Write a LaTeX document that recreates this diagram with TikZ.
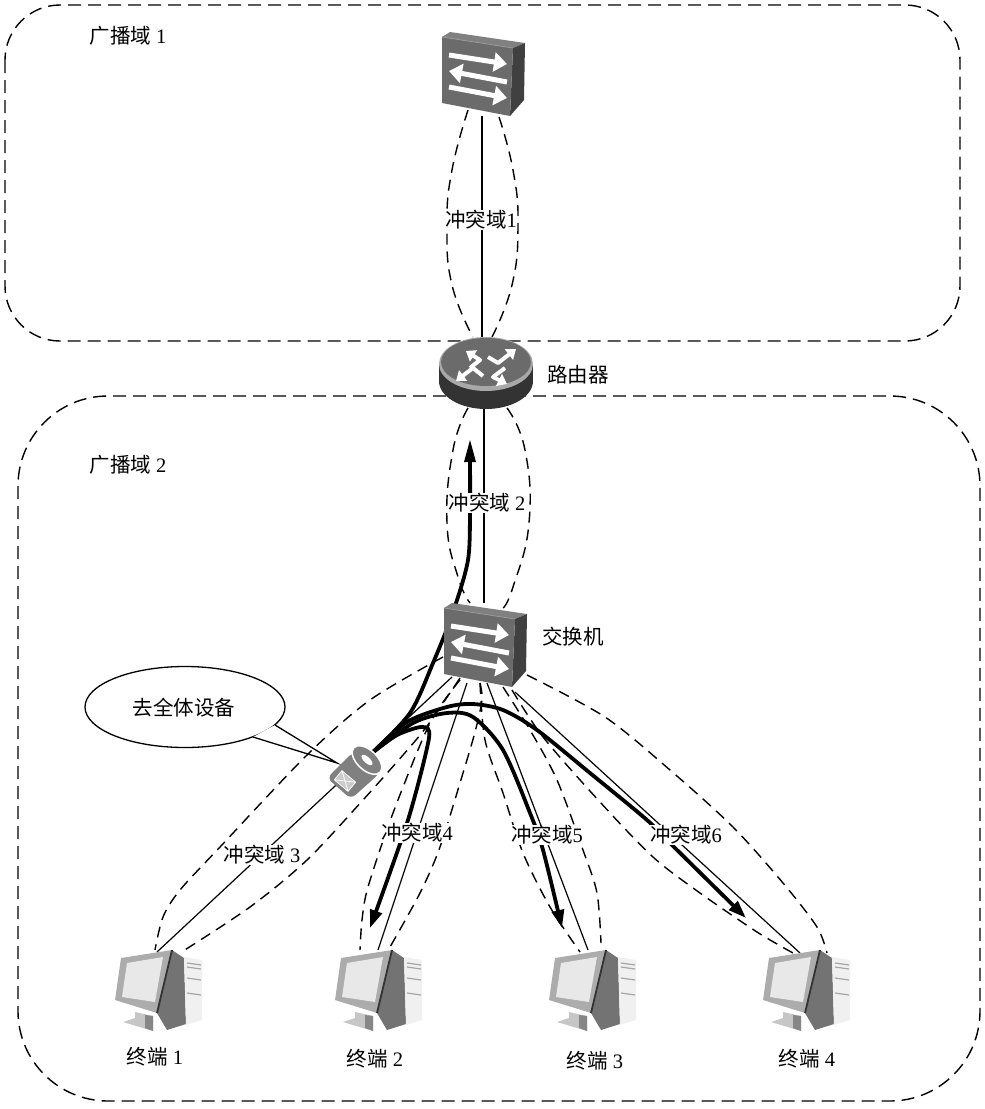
\documentclass[tikz,border=0pt]{standalone}
\usepackage{fontspec}
\setmainfont{Liberation Serif}
\newfontfamily\cjk{Noto Sans CJK SC}
\usetikzlibrary{arrows.meta,calc,shapes.geometric}
\definecolor{swfront}{gray}{0.42}
\definecolor{swtop}{gray}{0.50}
\definecolor{swside}{gray}{0.25}
\definecolor{rtop}{gray}{0.42}
\definecolor{rrim}{gray}{0.66}
\definecolor{rside}{gray}{0.2}
\definecolor{mailc}{gray}{0.50}
\tikzset{
  x=1pt,y=-1pt,
  domainbox/.style={draw=black,line width=1.4pt,dash pattern=on 13pt off 7pt},
  lens/.style={draw=black,line width=1.4pt,dash pattern=on 11pt off 7pt},
  wire/.style={draw=black,line width=1.2pt},
  flow/.style={draw=black,line width=3.8pt},
  flowtip/.style={-{Triangle[length=18pt,width=12pt]}},
  lab/.style={font=\fontsize{20.5}{24}\selectfont,inner sep=1pt},
  labw/.style={lab,fill=white,inner sep=0.5pt},
  ghost/.style={inner sep=0pt,minimum width=#1,draw=none},
  wht/.style={draw=white,line width=5pt,line join=round,
     -{Triangle[length=13pt,width=19pt]}},
  whr/.style={draw=white,line width=4pt,line join=round,
     -{Triangle[length=9pt,width=13pt]}}
}
\newcommand{\swicon}[2]{%
 \begin{scope}[shift={(#1,#2)}]
  \fill[swtop] (442,37)--(450,32)--(525,43)--(513,48)--cycle;
  \fill[swside] (513,48)--(525,43)--(524,100)--(510,116)--cycle;
  \fill[swfront] (442,37)--(513,48)--(510,116)--(442,103)--cycle;
  \draw[gray!80!white,line width=.8pt] (442,37)--(513,48);
  \draw[wht] (449,55)--(507,64);
  \draw[wht] (507,82)--(449,71);
  \draw[wht] (449,87)--(507,98);
 \end{scope}}
\newcommand{\pcicon}[2]{%
 \begin{scope}[shift={(#1,#2)}]
  \fill[black!55] (172,950)--(184,958)--(186,1024)--(167,1030)--(157,1013)--cycle;
  \fill[gray!12] (184,957)--(202,960)--(202,1020)--(186,1025)--cycle;
  \draw[gray!70,line width=1.2pt] (187,963)--(201,965) (187,967)--(201,969) (187,978)--(201,980) (187,993)--(201,995);
  \fill[gray!45] (135,1012)--(153,1016)--(153,1031)--(123,1022)--(135,1018)--cycle;
  \fill[gray!95] (145,1015)--(153,1016)--(153,1031)--(145,1028)--cycle;
  \fill[gray!65] (121,958)--(172,950)--(157,1013)--(115,1000)--cycle;
  \fill[gray!18] (127,963)--(163,957)--(155,1002)--(122,997)--cycle;
  \draw[black!80,line width=1.8pt] (172,950)--(157,1013);
 \end{scope}}
\begin{document}
\begin{tikzpicture}
\useasboundingbox (0,0) rectangle (985,1109);
% broadcast domains
\draw[domainbox,rounded corners=55pt] (5,5) rectangle (960,341);
\draw[domainbox,rounded corners=90pt] (18,396) rectangle (980,1101);
% device nodes
\node[ghost=83pt,minimum height=84pt] (sw1) at (483.5,74) {};
\node[ghost=83pt,minimum height=84pt] (sw2) at (485.5,645) {};
\node[ghost=94pt,minimum height=72pt] (rt) at (486,373) {};
\node[ghost=40pt,minimum height=40pt] (mail) at (352,772) {};
\node[ghost=88pt,minimum height=82pt] (pc1) at (159,991) {};
\node[ghost=88pt,minimum height=82pt] (pc2) at (379,991) {};
\node[ghost=88pt,minimum height=82pt] (pc3) at (593,991) {};
\node[ghost=88pt,minimum height=82pt] (pc4) at (807,991) {};
% callout
\node[draw=black,line width=1.3pt,fill=white,ellipse,inner sep=0pt,minimum width=200pt,minimum height=81pt] (call) at (185,707) {};
\coordinate (tailtip) at (337,763);
\fill[white] (275,725) -- (tailtip) -- (253,737) -- cycle;
\draw[wire,line width=1.3pt] (275,725) -- (tailtip) -- (253,737);
\node[lab] (calltxt) at (184,708) {\cjk 去全体设备};
% wires
\draw[wire] (sw1.south -| 482,0) -- (rt.north -| 482,0);
\draw[wire] (rt.south -| 484,0) -- (sw2.north -| 484,0);
\coordinate (sa) at (452,677);
\coordinate (sb) at (467,683);
\coordinate (sc) at (487,683);
\coordinate (sd) at (515,692);
\coordinate (ea) at (157,952);
\coordinate (eb) at (378,950);
\coordinate (ec) at (588,950);
\coordinate (ed) at (800,953);
\draw[wire] (sa) -- (ea);
\draw[wire] (sb) -- (eb);
\draw[wire] (sc) -- (ec);
\draw[wire] (sd) -- (ed);
% collision-domain lenses
\draw[lens] plot[smooth,tension=.8] coordinates {(468,110) (452,170) (447,225) (452,285) (473,337)};
\draw[lens] plot[smooth,tension=.8] coordinates {(499,117) (513,170) (518,225) (512,285) (492,337)};
\draw[lens] plot[smooth,tension=.8] coordinates {(468,408) (453,450) (447,523) (458,577) (470,603)};
\draw[lens] plot[smooth,tension=.8] coordinates {(507,408) (525,450) (529,523) (513,587) (503,608)};
\draw[lens] plot[smooth,tension=.5] coordinates {(443,657) (370,700) (307,755) (220,847) (180,890) (163,917) (155,950)};
\draw[lens] plot[smooth,tension=.5] coordinates {(460,678) (430,722) (410,747) (363,800) (307,860) (250,907) (180,953)};
\draw[lens] plot[smooth,tension=.5] coordinates {(460,680) (430,723) (393,813) (368,887) (362,920) (360,950)};
\draw[lens] plot[smooth,tension=.5] coordinates {(480,683) (482,700) (475,732) (463,773) (440,847) (420,893) (390,947)};
\draw[lens] plot[smooth,tension=.5] coordinates {(480,683) (485,740) (503,793) (523,853) (550,907) (580,952)};
\draw[lens] plot[smooth,tension=.5] coordinates {(503,687) (530,730) (557,780) (583,850) (597,893) (601,943)};
\draw[lens] plot[smooth,tension=.5] coordinates {(512,690) (543,737) (600,802) (653,857) (700,893) (757,932) (793,953)};
\draw[lens] plot[smooth,tension=.5] coordinates {(527,675) (605,717) (670,770) (733,827) (783,883) (817,927) (827,953)};
% thick flows
\coordinate (mo) at (372,753);
\draw[flow] plot[smooth,tension=.5] coordinates {(mo) (410,713) (433,663) (452,615) (468,560) (470,505) (470,460)};
\fill[black] (470,440) -- (464,462) -- (476,462) -- cycle;
\draw[flow,flowtip] plot[smooth,tension=.45] coordinates {(mo) (397,735) (422,727) (429,738) (408,820) (370,928)};
\draw[flow,flowtip] plot[smooth,tension=.5] coordinates {(mo) (413,723) (447,713) (473,717) (503,750) (530,813) (543,850) (562,928)};
\draw[flow,flowtip] plot[smooth,tension=.5] coordinates {(mo) (407,722) (447,707) (473,704) (503,710) (537,730) (590,773) (647,820) (672,845) (746,918)};
% switches
\swicon{0}{0}
\swicon{2}{571}
% router
\fill[rside] (439,364) rectangle (533,381);
\fill[rside] (486,381) ellipse[x radius=47,y radius=28];
\fill[rrim] (486,364) ellipse[x radius=47,y radius=27];
\fill[rtop] (486,362) ellipse[x radius=45,y radius=24];
\draw[whr] (470,368)--(480,360)--(466,351);
\draw[whr] (488,357)--(498,363)--(516,349);
\draw[whr] (483,376)--(473,368)--(456,381);
\draw[whr] (505,368)--(493,377)--(507,384);
% mail drop
\fill[mailc,rounded corners=6pt] (327,778)--(353,752)--(380,773)--(351,799)--cycle;
\begin{scope}[shift={(367,760)},rotate=-43]
 \draw[white,line width=1.5pt,fill=mailc] (0,0) ellipse[x radius=18,y radius=10];
 \fill[white] (0,0) ellipse[x radius=7,y radius=3];
\end{scope}
\begin{scope}[shift={(345,781)},rotate=-40]
 \draw[white,fill=white!80!black,line width=.7pt] (-9,-6) rectangle (9,6) (-9,-6)--(9,6) (-9,6)--(9,-6);
\end{scope}
% computers
\pcicon{0}{0}
\pcicon{220}{0}
\pcicon{434}{0}
\pcicon{648}{0}
% labels
\node[lab] (bd1) at (128,36) {{\cjk 广播域} 1};
\node[lab] (bd2) at (128,465) {{\cjk 广播域} 2};
\node[lab] (rtl) at (578,375) {\cjk 路由器};
\node[lab] (swl) at (573,637) {\cjk 交换机};
\node[labw] (cd1) at (481,220) {{\cjk 冲突域}1};
\node[labw] (cd2) at (487,503) {{\cjk 冲突域} 2};
\node[labw] (cd3) at (262,855) {{\cjk 冲突域} 3};
\node[labw] (cd4) at (417,833) {{\cjk 冲突域}4};
\node[labw] (cd5) at (547,835) {{\cjk 冲突域}5};
\node[labw] (cd6) at (686,835) {{\cjk 冲突域}6};
\node[lab] (t1) at (155,1057) {{\cjk 终端} 1};
\node[lab] (t2) at (375,1059) {{\cjk 终端} 2};
\node[lab] (t3) at (595,1061) {{\cjk 终端} 3};
\node[lab] (t4) at (807,1059) {{\cjk 终端} 4};
\end{tikzpicture}
\end{document}
